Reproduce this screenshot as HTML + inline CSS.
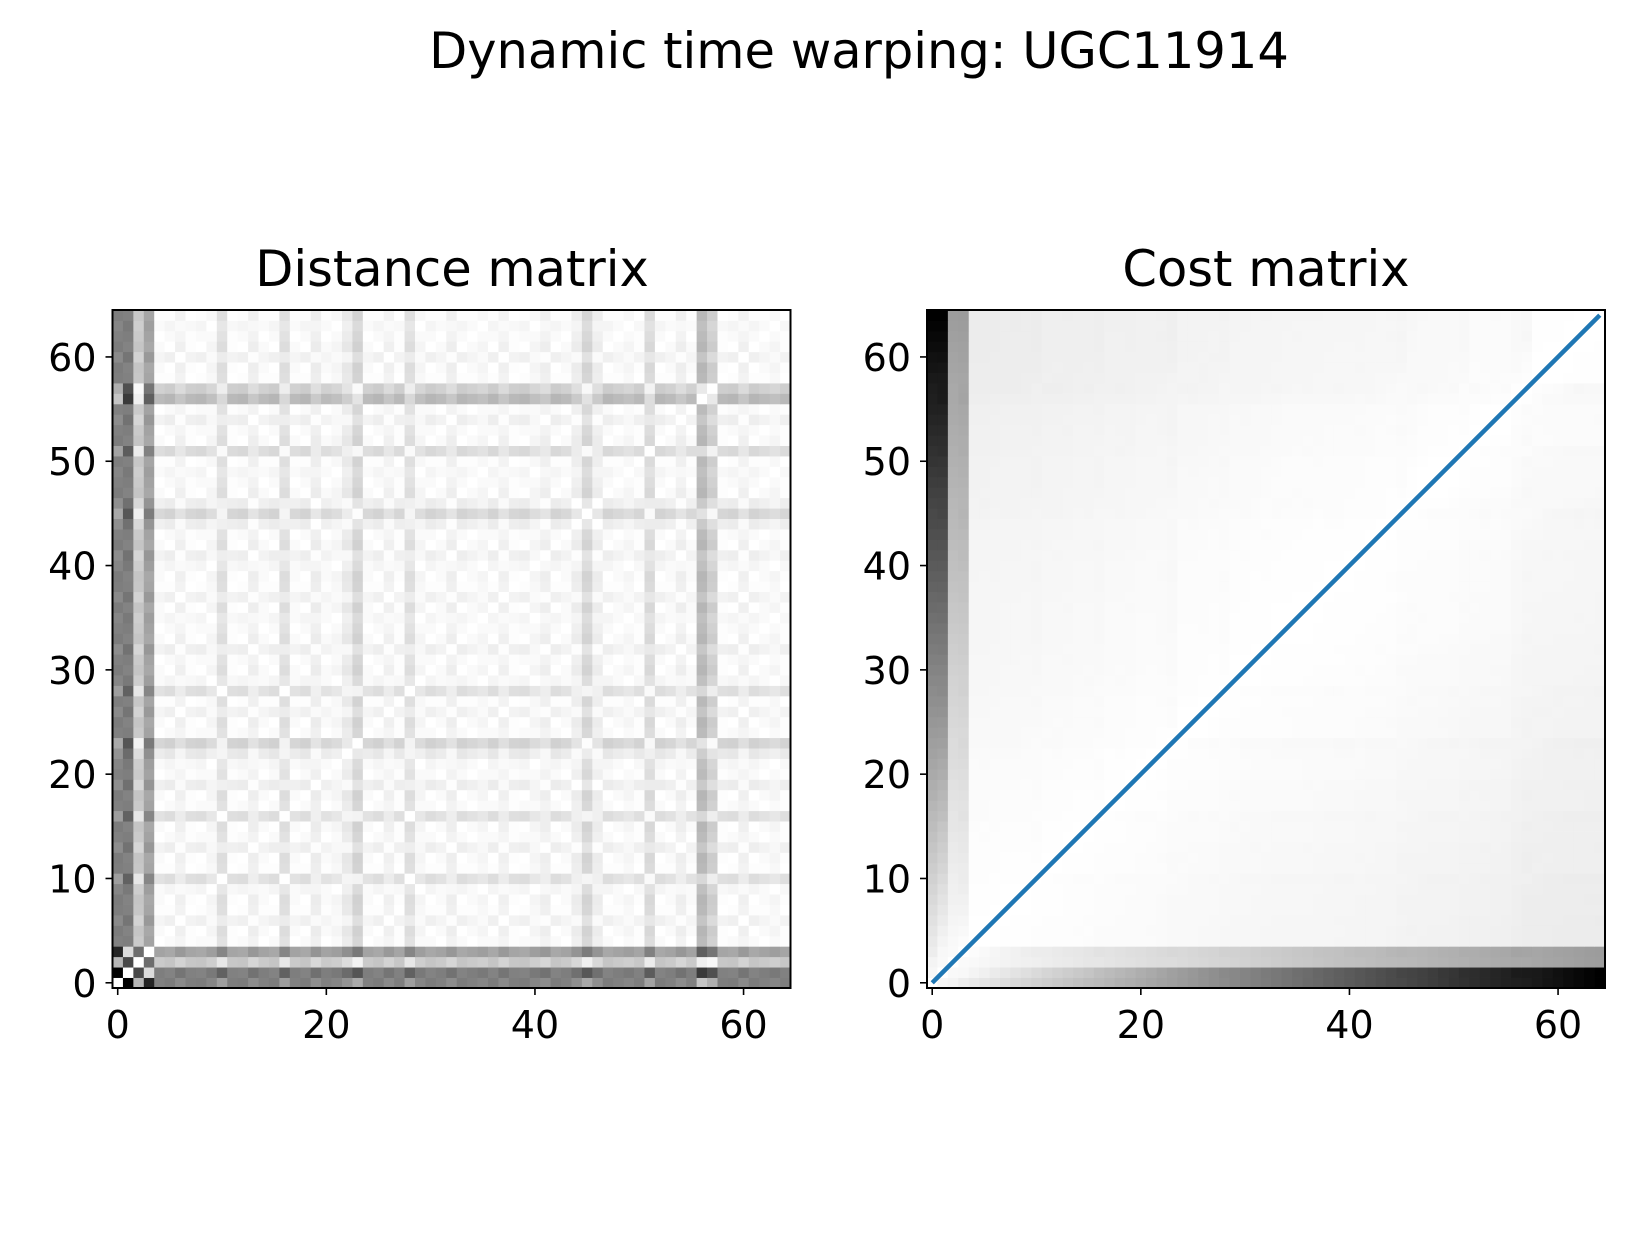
<!DOCTYPE html>
<html><head><meta charset="utf-8"><style>
body{margin:0;background:#fff;}
svg text{font-family:"DejaVu Sans","Liberation Sans",sans-serif;fill:#000;}
</style></head><body>
<svg id="fig" width="1630" height="1231" viewBox="0 0 1630 1231">
<text x="859" y="68" font-size="49.5" text-anchor="middle">Dynamic time warping: UGC11914</text>
<text x="452" y="286" font-size="49.5" text-anchor="middle">Distance matrix</text>
<text x="1266" y="286" font-size="49.5" text-anchor="middle">Cost matrix</text>
<g id="left"></g>
<g id="right"></g>
</svg>
<script>
// series values (one light-curve compared with itself)
const series = [-0.5,0.55,-0.2,0.4,
 0.02,0.04,-0.02,0.03,0.04,0.0,-0.1,0.03,0.04,-0.03,0.02,0.04,-0.1,0.02,0.04,-0.04,0.02,0.0,-0.06,-0.15,0.02,0.04,-0.02,0.03,-0.1,0.0,0.04,0.02,-0.03,0.04,0.02,0.0,0.04,-0.02,0.03,0.04,0.0,-0.03,0.04,0.02,-0.04,-0.14,-0.04,0.04,0.02,0.0,0.03,-0.12,0.04,0.02,-0.03,0.02,-0.26,-0.17,0.03,0.04,-0.02,0.04,0.02,0.0,0.03];
const ticks = [0,10,20,30,40,50,60];
const xticks = [0,20,40,60];

const NS="http://www.w3.org/2000/svg";
const N=65, SIZE=678, cell=SIZE/65, TOP=310;
function mk(tag,attrs,parent){const e=document.createElementNS(NS,tag);for(const k in attrs)e.setAttribute(k,attrs[k]);parent.appendChild(e);return e;}
const D=[];for(let i=0;i<N;i++){D.push([]);for(let j=0;j<N;j++)D[i].push(Math.abs(series[j]-series[i]));}
const C=[];for(let i=0;i<N;i++){C.push([]);for(let j=0;j<N;j++){let m;
 if(i===0&&j===0)m=0;else if(i===0)m=C[0][j-1];else if(j===0)m=C[i-1][0];else m=Math.min(C[i-1][j],C[i][j-1],C[i-1][j-1]);
 C[i].push(D[i][j]+m);}}
function panel(g,M,x0,y0){
 let mx=0,mn=Infinity;M.forEach(r=>r.forEach(v=>{mx=Math.max(mx,v);mn=Math.min(mn,v);}));
 const sx=j=>x0+j*cell, sy=i=>y0+SIZE-(i+1)*cell;
 for(let i=0;i<N;i++)for(let j=0;j<N;j++){
  const t=(M[i][j]-mn)/(mx-mn);const c=Math.round(255*(1-t));
  const r=mk('rect',{x:sx(j),y:sy(i),width:cell+0.4,height:cell+0.4,fill:`rgb(${c},${c},${c})`},g);
  
  
 }
 const fr=mk('rect',{x:x0,y:y0,width:SIZE,height:SIZE,fill:'none',stroke:'#000','stroke-width':2},g);
 
 
 ticks.forEach(v=>{const y=y0+SIZE-(v+0.5)*cell;
  mk('line',{x1:x0-7,x2:x0,y1:y,y2:y,stroke:'#000','stroke-width':1.6},g);
  const t=mk('text',{x:x0-16,y:y+14,'font-size':38,'text-anchor':'end'},g);t.textContent=v;
  
  });
 xticks.forEach(v=>{const x=x0+(v+0.5)*cell;
  mk('line',{x1:x,x2:x,y1:y0+SIZE,y2:y0+SIZE+7,stroke:'#000','stroke-width':1.6},g);
  const t=mk('text',{x:x,y:y0+SIZE+50,'font-size':38,'text-anchor':'middle'},g);t.textContent=v;
  
  });
}
panel(document.getElementById('left'),D,112.5,TOP);
const g2=document.getElementById('right');
const RX=927;
panel(g2,C,RX,TOP);
let i=N-1,j=N-1;const path=[[i,j]];
while(i>0||j>0){if(i===0)j--;else if(j===0)i--;else{const a=C[i-1][j-1],b=C[i-1][j],c=C[i][j-1];
 if(a<=b&&a<=c){i--;j--;}else if(b<c)i--;else j--;}path.push([i,j]);}
const pts=path.map(p=>`${RX+(p[1]+0.5)*cell},${TOP+SIZE-(p[0]+0.5)*cell}`).join(' ');
const pl=mk('polyline',{points:pts,fill:'none',stroke:'#1f77b4','stroke-width':4.5},g2);


</script>
</body></html>
